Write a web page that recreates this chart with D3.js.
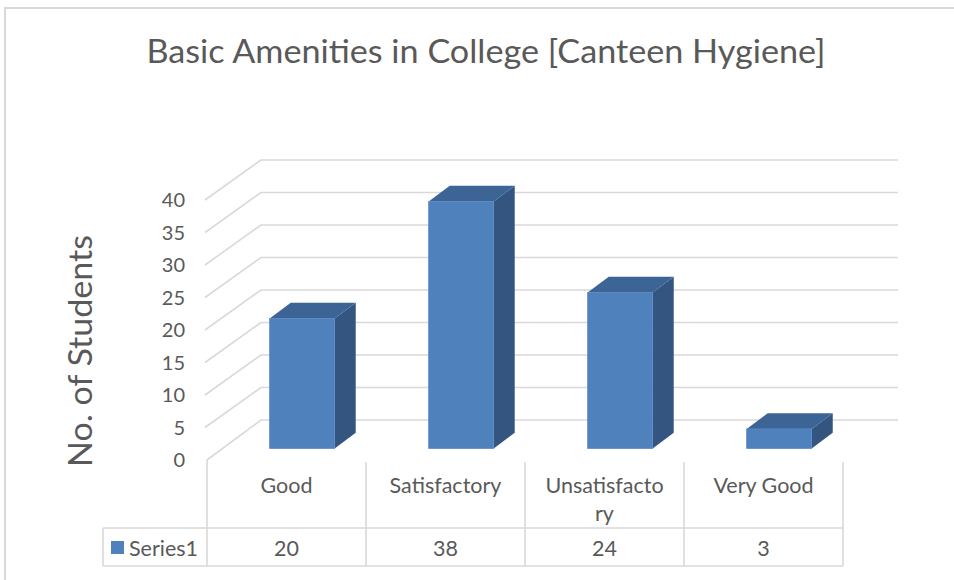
<!DOCTYPE html>
<html>
<head>
<meta charset="utf-8">
<script src="https://cdn.jsdelivr.net/npm/d3@7"></script>
<style>
  html, body { margin: 0; padding: 0; background: #fff; }
  svg { display: block; }
  text { font-family: Lato, "Open Sans", "Noto Sans", sans-serif; fill: #595959; }
</style>
</head>
<body>
<svg id="chart" width="954" height="580"></svg>
<script>
// ---- data ----
const categories = ["Good", "Satisfactory", "Unsatisfactory", "Very Good"];
const categoryLabelLines = [["Good"], ["Satisfactory"], ["Unsatisfacto", "ry"], ["Very Good"]];
const seriesName = "Series1";
const seriesValues = [20, 38, 24, 3];
const yTicks = [0, 5, 10, 15, 20, 25, 30, 35, 40];
const titleText = "Basic Amenities in College [Canteen Hygiene]";
const yAxisTitle = "No. of Students";

// ---- layout ----
const svg = d3.select("#chart");
const grid = "#d9d9d9";
const colFront = "#4f81bd", colTop = "#3c6494", colSide = "#33557f";

const plotLeft = 207, plotRight = 843;
const depth = { dx: 54, dy: -40 };        // full depth of the 3D box
const barDepth0 = 0.29, barDepth1 = 0.68; // bar position inside the depth
const x = d3.scaleBand().domain(categories).range([plotLeft, plotRight]);
const y = d3.scaleLinear().domain([0, 40]).range([460, 200]);
const barW = 65;

// chart frame
svg.append("rect").attr("x", 5).attr("y", 8).attr("width", 960).attr("height", 590)
  .attr("fill", "#fff").attr("stroke", grid).attr("stroke-width", 2);

// title
svg.append("text").attr("x", 486).attr("y", 63).attr("text-anchor", "middle")
  .attr("font-size", 32).attr("textLength", 679).attr("lengthAdjust", "spacingAndGlyphs")
  .text(titleText);

// y axis title
svg.append("text").attr("transform", "translate(92,351) rotate(-90)")
  .attr("text-anchor", "middle").attr("font-size", 32)
  .attr("textLength", 232).attr("lengthAdjust", "spacingAndGlyphs")
  .text(yAxisTitle);

// gridlines: side wall diagonals + back wall horizontals
const gl = svg.append("g").attr("stroke", grid).attr("stroke-width", 1.6).attr("fill", "none");
yTicks.forEach(v => {
  const fx = v === 0 ? plotLeft : plotLeft - 2, fy = y(v);
  gl.append("path").attr("d", d3.line()([
    [fx, fy], [plotLeft + depth.dx, fy + depth.dy], [898, fy + depth.dy]
  ]));
});

// y tick labels
svg.append("g").selectAll("text").data(yTicks).join("text")
  .attr("x", 185).attr("y", d => y(d)).attr("dy", "0.35em")
  .attr("text-anchor", "end").attr("font-size", 20).text(d => d);

// bars
const bars = svg.append("g");
categories.forEach((c, i) => {
  const v = seriesValues[i];
  const cx = x(c) + x.bandwidth() / 2 + depth.dx * barDepth0;
  const x0 = cx - barW / 2, x1 = cx + barW / 2;
  const yb = y(0) + depth.dy * barDepth0, yt = y(v) + depth.dy * barDepth0;
  const ddx = depth.dx * (barDepth1 - barDepth0), ddy = depth.dy * (barDepth1 - barDepth0);
  // side
  bars.append("path").attr("fill", colSide).attr("d", d3.line()([
    [x1, yt], [x1 + ddx, yt + ddy], [x1 + ddx, yb + ddy], [x1, yb]
  ]) + "Z");
  // top
  bars.append("path").attr("fill", colTop).attr("d", d3.line()([
    [x0, yt], [x0 + ddx, yt + ddy], [x1 + ddx, yt + ddy], [x1, yt]
  ]) + "Z");
  // front
  bars.append("rect").attr("x", x0).attr("y", yt).attr("width", barW).attr("height", yb - yt)
    .attr("fill", colFront).attr("stroke", "#5a8ac4").attr("stroke-width", 0.8);
});

// category header lines
const tl = svg.append("g").attr("stroke", grid).attr("stroke-width", 1.6);
tl.append("line").attr("x1", plotLeft).attr("x2", plotLeft).attr("y1", y(0)).attr("y2", 528);
categories.forEach(c => {
  const xr = x(c) + x.bandwidth();
  tl.append("line").attr("x1", xr).attr("x2", xr).attr("y1", 462).attr("y2", 566);
});
// data table
tl.append("line").attr("x1", 103).attr("x2", plotRight).attr("y1", 528).attr("y2", 528);
tl.append("line").attr("x1", 103).attr("x2", plotRight).attr("y1", 566).attr("y2", 566);
tl.append("line").attr("x1", 103).attr("x2", 103).attr("y1", 528).attr("y2", 566);
tl.append("line").attr("x1", plotLeft).attr("x2", plotLeft).attr("y1", 528).attr("y2", 566);

// category labels
categories.forEach((c, i) => {
  const t = svg.append("text").attr("x", x(c) + x.bandwidth() / 2).attr("y", 493)
    .attr("text-anchor", "middle").attr("font-size", 21.5);
  categoryLabelLines[i].forEach((ln, j) => {
    t.append("tspan").attr("x", x(c) + x.bandwidth() / 2).attr("dy", j === 0 ? 0 : 28).text(ln);
  });
});

// table values
svg.append("g").selectAll("text").data(seriesValues).join("text")
  .attr("x", (d, i) => x(categories[i]) + x.bandwidth() / 2).attr("y", 548).attr("dy", "0.35em")
  .attr("text-anchor", "middle").attr("font-size", 21.5).text(d => d);

// legend key in table
svg.append("rect").attr("x", 111).attr("y", 541).attr("width", 13).attr("height", 13).attr("fill", colFront);
svg.append("text").attr("x", 129).attr("y", 548).attr("dy", "0.35em").attr("font-size", 21.5).text(seriesName);
</script>
</body>
</html>
